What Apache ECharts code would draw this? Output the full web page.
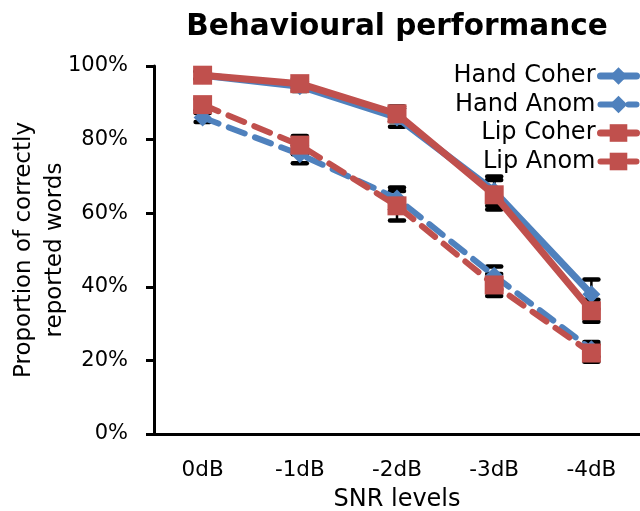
<!DOCTYPE html>
<html><head><meta charset="utf-8">
<script src="https://cdn.jsdelivr.net/npm/echarts@6/dist/echarts.min.js"></script>
<style>html,body{margin:0;padding:0;background:#fff}#c{width:640px;height:511px}</style>
</head><body><div id="c"></div>
<script>
const categories = ['0dB', '-1dB', '-2dB', '-3dB', '-4dB'];
const seriesNames = ['Hand Coher', 'Hand Anom', 'Lip Coher', 'Lip Anom'];
const handCoher = [97.5, 94.5, 86, 66, 38];
const handAnom = [86, 76, 64, 43, 23];
const lipCoher = [97.5, 95.2, 87, 65, 33.5];
const lipAnom = [89.5, 78.5, 62, 40.5, 22];
const errHandCoher = [1, 1.3, 2.5, 4, 4];
const errHandAnom = [1.2, 2.4, 3, 2.5, 2];
const errLipCoher = [1, 1.3, 2, 4, 3];
const errLipAnom = [1.5, 2.5, 4, 3, 2.4];
const yTicks = [0, 20, 40, 60, 80, 100];

const FONT = 'DejaVu Sans';
const BLUE = '#4F81BD', RED = '#C0504D';

const chart = echarts.init(document.getElementById('c'), null, {renderer: 'canvas'});

function errData(vals, errs) {
  return vals.map((v, i) => [i, v - errs[i], v + errs[i]]);
}
function errSeries(vals, errs) {
  return {
    type: 'custom',
    z: 1,
    silent: true,
    data: errData(vals, errs),
    renderItem: function (params, api) {
      const lo = api.coord([api.value(0), api.value(1)]);
      const hi = api.coord([api.value(0), api.value(2)]);
      const w = 7;
      const st = {stroke: '#000', lineWidth: 4.5, lineCap: 'round'};
      return {
        type: 'group',
        children: [
          {type: 'line', shape: {x1: lo[0], y1: lo[1], x2: hi[0], y2: hi[1]}, style: {stroke: '#000', lineWidth: 2.5}},
          {type: 'line', shape: {x1: lo[0] - w, y1: lo[1], x2: lo[0] + w, y2: lo[1]}, style: st},
          {type: 'line', shape: {x1: hi[0] - w, y1: hi[1], x2: hi[0] + w, y2: hi[1]}, style: st}
        ]
      };
    }
  };
}
function lineSeries(name, data, color, dashed, symbol, size) {
  return {
    name: name, type: 'line', data: data, z: 3,
    symbol: symbol, symbolSize: size,
    itemStyle: {color: color},
    lineStyle: {color: color, width: dashed ? 6 : 7, type: dashed ? [17, 11] : 'solid', cap: 'round'},
    emphasis: {disabled: true}
  };
}

chart.setOption({
  animation: false,
  backgroundColor: '#fff',
  title: {
    text: 'Behavioural performance', left: 397, top: 12, textAlign: 'center', padding: 0,
    textStyle: {fontFamily: FONT, fontWeight: 'bold', fontSize: 29.5, color: '#000'}
  },
  legend: {
    orient: 'vertical', right: 0, top: 64, padding: 0, align: 'right',
    itemWidth: 36, itemHeight: 22, itemGap: 4.5,
    data: seriesNames,
    lineStyle: {width: 'inherit'},
    textStyle: {fontFamily: FONT, fontSize: 24, color: '#000', lineHeight: 24}
  },
  grid: {left: 154, right: 0, top: 66, bottom: 77, containLabel: false, outerBoundsMode: 'none'},
  xAxis: {
    type: 'category', data: categories, boundaryGap: true,
    name: 'SNR levels', nameLocation: 'middle', nameGap: 54, nameMoveOverlap: false,
    nameTextStyle: {fontFamily: FONT, fontSize: 24, color: '#000'},
    axisLine: {lineStyle: {color: '#000', width: 3}},
    axisTick: {alignWithLabel: true, length: 9, lineStyle: {color: '#000', width: 3}},
    axisLabel: {fontFamily: FONT, fontSize: 21.5, color: '#000', margin: 25}
  },
  yAxis: {
    type: 'value', min: yTicks[0], max: yTicks[yTicks.length - 1], interval: 20,
    name: 'Proportion of correctly\nreported words', nameLocation: 'middle', nameGap: 83, nameMoveOverlap: false,
    nameTextStyle: {fontFamily: FONT, fontSize: 23, color: '#000', lineHeight: 31},
    axisLine: {show: true, lineStyle: {color: '#000', width: 3}},
    axisTick: {show: true, length: 8, lineStyle: {color: '#000', width: 3}},
    splitLine: {show: false},
    axisLabel: {fontFamily: FONT, fontSize: 21, color: '#000', margin: 26, formatter: '{value}%'}
  },
  series: [
    errSeries(handCoher, errHandCoher),
    errSeries(handAnom, errHandAnom),
    errSeries(lipCoher, errLipCoher),
    errSeries(lipAnom, errLipAnom),
    lineSeries(seriesNames[0], handCoher, BLUE, false, 'diamond', 18),
    lineSeries(seriesNames[1], handAnom, BLUE, true, 'diamond', 18),
    lineSeries(seriesNames[2], lipCoher, RED, false, 'rect', 19),
    lineSeries(seriesNames[3], lipAnom, RED, true, 'rect', 19)
  ]
});
</script></body></html>
